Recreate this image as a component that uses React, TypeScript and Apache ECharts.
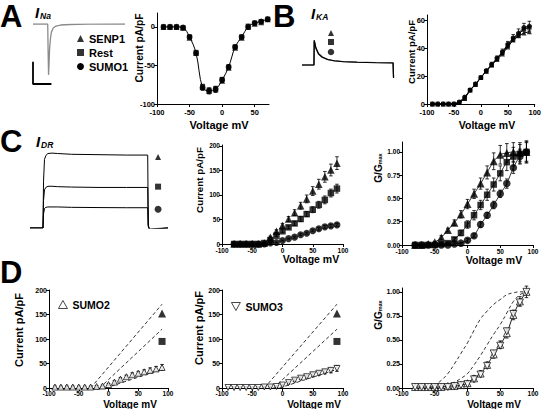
import React, { useEffect, useRef } from "react";
import * as echarts from "echarts";

const FONT = "'Liberation Sans', Arial, Helvetica, sans-serif";

// ---------- Panel A: I_Na I-V ----------
const VOLT_A = [-90, -80, -70, -60, -50, -40, -30, -20, -10, 0, 10, 20, 30, 40, 50, 60, 70];
const A_SENP1 = [0, 0, 0, -1, -14, -34, -78, -83, -81, -70, -53, -27, -14, 0, 4, 6, 10];
const A_REST = [0, 0, 0, -1, -13, -33, -77, -82, -80, -68, -52, -26, -13, 1, 5, 7, 10];
const A_SUMO1 = [0, 0, 0, -1, -13, -34, -79, -83, -81, -69, -52, -26, -13, 0, 5, 7, 10];
const A_ERR = [0, 0, 0, 1, 1, 2, 3, 4, 4, 3, 3, 2, 1, 1, 1, 1, 1];

// ---------- Panel B: I_KA I-V ----------
const VOLT_B = [-90, -80, -70, -60, -50, -40, -30, -20, -10, 0, 10, 20, 30, 40, 50, 60, 70, 80, 90];
const B_SENP1 = [0, 0, 0, 0, 0, 1, 4, 10, 14, 19, 23.5, 28, 32, 36, 41, 46, 49, 51, 52];
const B_REST = [0, 0, 0, 0, 0, 1, 4, 10, 14, 19, 23.5, 28, 32.5, 37, 42, 47, 50, 54, 55];
const B_SUMO1 = [0, 0, 0, 0, 0, 1.5, 5, 10, 14.5, 19, 24, 28.5, 33, 37.5, 43, 47.5, 51, 55, 56];
const B_ERR = [0, 0, 0, 0, 0, 0.5, 1, 1, 1, 1, 1, 1.5, 1.5, 2, 2, 2.5, 3, 3, 3.5];

// ---------- Panel C: I_DR I-V and G/Gmax ----------
const VOLT_C = [-80, -70, -60, -50, -40, -30, -20, -10, 0, 10, 20, 30, 40, 50, 60, 70, 80, 90];
const C_SENP1 = [0, 0, 0, 0, 0, 2, 14, 26, 38, 51, 64, 78, 92, 108, 122, 137, 151, 165];
const C_REST = [0, 0, 0, 0, 0, 2, 8, 17, 26, 34, 42, 51, 61, 70, 80, 90, 104, 113];
const C_SUMO1 = [0, 0, 0, 0, 0, 0, 2, 3, 7, 11, 14, 19, 22, 27, 31, 35, 37, 39];
const C_SENP1_ERR = [0, 0, 0, 0, 0, 1, 2, 3, 4, 5, 6, 7, 8, 9, 10, 11, 12, 13];
const C_REST_ERR = [0, 0, 0, 0, 0, 1, 1, 2, 3, 3, 4, 5, 5, 6, 7, 8, 8, 9];
const C_SUMO1_ERR = [0, 0, 0, 0, 0, 0, 1, 1, 1, 1, 2, 2, 2, 2, 3, 3, 3, 3];

const G_SENP1 = [0, 0, 0.01, 0.03, 0.08, 0.16, 0.24, 0.33, 0.44, 0.55, 0.66, 0.78, 0.9, 0.97, 0.99, 1, 1, 1];
const G_REST = [0, 0, 0, 0, 0.01, 0.02, 0.06, 0.13, 0.22, 0.32, 0.43, 0.54, 0.65, 0.77, 0.89, 0.95, 0.98, 1];
const G_SUMO1 = [0, 0, 0, 0, 0, 0, 0.01, 0.02, 0.05, 0.1, 0.22, 0.32, 0.43, 0.55, 0.66, 0.83, 0.95, 1];
const G_SENP1_ERR = [0, 0, 0.01, 0.01, 0.02, 0.02, 0.03, 0.04, 0.05, 0.05, 0.06, 0.07, 0.09, 0.1, 0.1, 0.1, 0.1, 0.1];
const G_REST_ERR = [0, 0, 0, 0, 0.01, 0.01, 0.02, 0.03, 0.04, 0.05, 0.05, 0.06, 0.07, 0.08, 0.09, 0.1, 0.1, 0.11];
const G_SUMO1_ERR = [0, 0, 0, 0, 0, 0, 0.01, 0.01, 0.02, 0.02, 0.03, 0.03, 0.04, 0.04, 0.05, 0.06, 0.08, 0.12];

// ---------- Panel D: SUMO2 / SUMO3 ----------
const VOLT_D = [-90, -80, -70, -60, -50, -40, -30, -20, -10, 0, 10, 20, 30, 40, 50, 60, 70, 80, 90];
const D_SUMO2 = [2, 2, 2, 2, 2, 2, 2, 3, 4, 7, 12, 18, 23, 27, 30, 33, 36, 39, 42];
const D_SUMO3 = [1, 1, 1, 1, 1, 1, 2, 2, 3, 6, 11, 16, 20, 23, 27, 30, 33, 36, 40];
const D_SUMO2_ERR = [2, 2, 2, 2, 2, 2, 2, 2, 2, 2, 3, 3, 3, 4, 4, 4, 5, 5, 6];
const D_SUMO3_ERR = [2, 2, 2, 2, 2, 2, 2, 2, 2, 2, 3, 3, 3, 3, 4, 4, 4, 5, 6];

const FIT_SENP1_V = [-30, 90];
const FIT_SENP1_I = [0, 171];
const FIT_REST_V = [-15, 90];
const FIT_REST_I = [0, 120];
const FIT_SUMO1_V = [-5, 90];
const FIT_SUMO1_I = [0, 38];
const REF_V = [90];
const REF_SENP1 = [152];
const REF_REST = [95];

const VOLT_G = [-80, -70, -60, -50, -40, -30, -20, -10, 0, 10, 20, 30, 40, 50, 60, 70, 80, 90];
const DG_SUMO2 = [0.01, 0.01, 0.01, 0.01, 0.01, 0.02, 0.02, 0.03, 0.05, 0.1, 0.15, 0.24, 0.35, 0.45, 0.57, 0.76, 0.9, 1.0];
const DG_SUMO3 = [0.01, 0.01, 0.01, 0.01, 0.01, 0.01, 0.02, 0.03, 0.04, 0.09, 0.14, 0.23, 0.36, 0.44, 0.59, 0.77, 0.89, 1.0];
const DG_ERR = [0.01, 0.01, 0.01, 0.01, 0.01, 0.01, 0.02, 0.02, 0.02, 0.03, 0.03, 0.03, 0.04, 0.04, 0.05, 0.05, 0.05, 0.06];
const BOLTZ_V = [-60, -50, -40, -30, -20, -10, 0, 10, 20, 30, 40, 50, 60, 70, 80, 90];
const BOLTZ_SENP1 = [0, 0.03, 0.08, 0.15, 0.25, 0.36, 0.47, 0.6, 0.72, 0.8, 0.87, 0.92, 0.97, 0.99, 1.0, 1.0];
const BOLTZ_REST = [0, 0, 0.01, 0.03, 0.06, 0.1, 0.15, 0.24, 0.34, 0.45, 0.56, 0.66, 0.78, 0.9, 0.97, 1.0];

// ---------- Example current traces ----------
const TRACE_A_T = [0, 16, 16.4, 16.9, 17.4, 18, 19, 20, 22, 25, 30, 40, 60, 100];
const TRACE_A_I = [0, 0, -0.5, -1, -0.8, -0.5, -0.28, -0.16, -0.08, -0.04, -0.02, -0.01, -0.003, 0];
const SCALE_BAR_T = [0, 0, 20];
const SCALE_BAR_I = [-0.74, -1.18, -1.18];

const TRACE_B_T = [0, 13, 13.3, 15, 18, 22, 28, 35, 45, 60, 80, 99, 99.5];
const TRACE_B_1 = [0, 0, 1.0, 0.7, 0.45, 0.32, 0.22, 0.17, 0.13, 0.11, 0.09, 0.08, -0.52];
const TRACE_B_2 = [0, 0, 0.96, 0.68, 0.44, 0.31, 0.22, 0.17, 0.14, 0.12, 0.1, 0.09, -0.5];
const TRACE_B_3 = [0, 0, 0.92, 0.66, 0.43, 0.3, 0.21, 0.16, 0.13, 0.11, 0.1, 0.09, -0.48];
const MARK_B_T = [31.5];
const MARK_B_I = [1.28, 0.92, 0.52];

const TRACE_C_T = [0, 9.4, 9.8, 10.5, 11.5, 13, 16, 20, 30, 50, 70, 85.3, 85.7, 86.5, 100];
const TRACE_C_1 = [0, 0, 0.6, 0.88, 0.93, 0.955, 0.96, 0.955, 0.945, 0.94, 0.935, 0.935, 0.04, -0.02, 0];
const TRACE_C_2 = [0, 0, 0.35, 0.49, 0.52, 0.535, 0.535, 0.53, 0.525, 0.52, 0.52, 0.52, 0.03, -0.02, 0];
const TRACE_C_3 = [0, 0, 0.18, 0.25, 0.265, 0.27, 0.27, 0.27, 0.265, 0.262, 0.26, 0.26, 0.02, -0.01, 0];
const MARK_C_T = [92.8];
const MARK_C_I = [0.91, 0.53, 0.24];

const V_TICKS = [-100, -50, 0, 50, 100];
const INV_TRI = "path://M0,0L10,0L5,9Z";

function pairs(xs: number[], ys: number[]) {
  return xs.map((x, i) => [x, ys[i]]);
}
function triples(xs: number[], ys: number[], es: number[]) {
  return xs.map((x, i) => [x, ys[i], es[i]]);
}

function errRender(params: any, api: any) {
  const x = api.value(0);
  const y = api.value(1);
  const e = api.value(2);
  if (!e) return null;
  const hi = api.coord([x, y + e]);
  const lo = api.coord([x, y - e]);
  const w = 1.8;
  const st = { stroke: "#000", lineWidth: 0.8 };
  return {
    type: "group",
    children: [
      { type: "line", shape: { x1: hi[0], y1: hi[1], x2: lo[0], y2: lo[1] }, style: st },
      { type: "line", shape: { x1: hi[0] - w, y1: hi[1], x2: hi[0] + w, y2: hi[1] }, style: st },
      { type: "line", shape: { x1: lo[0] - w, y1: lo[1], x2: lo[0] + w, y2: lo[1] }, style: st },
    ],
  };
}

function errSeries(idx: number, data: number[][]) {
  return {
    type: "custom",
    xAxisIndex: idx,
    yAxisIndex: idx,
    renderItem: errRender,
    data,
    encode: { x: 0, y: 1 },
    z: 1,
    silent: true,
  };
}

function axis(grid: number, min: number, max: number, ticks: number[], fontSize: number, margin: number, fmt?: (v: number) => string) {
  return {
    type: "value",
    gridIndex: grid,
    min,
    max,
    axisLine: { show: true, onZero: false, lineStyle: { color: "#000", width: 1 } },
    axisTick: { show: true, length: 3, customValues: ticks, lineStyle: { color: "#000", width: 1 } },
    axisLabel: {
      show: true,
      customValues: ticks,
      fontSize,
      fontWeight: "bold",
      color: "#000",
      fontFamily: FONT,
      margin,
      formatter: fmt ? fmt : (v: number) => String(v),
    },
    splitLine: { show: false },
  };
}
function hidden(grid: number, min: number, max: number) {
  return { type: "value", gridIndex: grid, min, max, show: false };
}

const fmt2 = (v: number) => v.toFixed(2);

function txt(x: number, y: number, text: string, size: number, opts: any = {}) {
  return {
    type: "text",
    x,
    y,
    rotation: opts.rotate ? Math.PI / 2 : 0,
    style: {
      text,
      fontSize: size,
      fontWeight: "bold",
      fontStyle: opts.italic ? "italic" : "normal",
      fontFamily: FONT,
      fill: "#000",
      align: opts.align || "center",
      verticalAlign: opts.valign || "middle",
    },
  };
}

function gmaxText(x: number, y: number) {
  return {
    type: "text",
    x,
    y,
    rotation: Math.PI / 2,
    style: {
      text: "{a|G/G}{b|max}",
      align: "center",
      verticalAlign: "middle",
      rich: {
        a: { fontSize: 10, fontWeight: "bold", fontFamily: FONT, fill: "#000", verticalAlign: "bottom" },
        b: { fontSize: 5.5, fontWeight: "bold", fontFamily: FONT, fill: "#000", verticalAlign: "bottom" },
      },
    },
  };
}

function sym(idx: number, name: string, symbol: string, size: number, data: number[][], fill = "#000") {
  return {
    type: "scatter",
    name,
    xAxisIndex: idx,
    yAxisIndex: idx,
    symbol,
    symbolSize: size,
    data,
    itemStyle: { color: fill, borderColor: "#000", borderWidth: fill === "#000" ? 0 : 0.9 },
    z: 3,
    clip: false,
    silent: true,
  };
}
function line(idx: number, name: string, data: number[][], opts: any = {}) {
  return {
    type: "line",
    name,
    xAxisIndex: idx,
    yAxisIndex: idx,
    data,
    showSymbol: false,
    symbol: "none",
    smooth: opts.smooth ?? false,
    lineStyle: {
      color: opts.color || "#000",
      width: opts.width ?? 1,
      type: opts.dashed ? [3.5, 2.5] : "solid",
    },
    z: opts.z ?? 2,
    silent: true,
  };
}

export default function App() {
  const ref = useRef<HTMLDivElement>(null);
  useEffect(() => {
    document.body.style.margin = "0";
    const chart = echarts.init(ref.current!, undefined, { renderer: "svg" });
    const option: any = {
      animation: false,
      backgroundColor: "#fff",
      grid: [
        { left: 157, top: 13, width: 112, height: 91 }, // 0 A
        { left: 427, top: 15, width: 108, height: 89 }, // 1 B
        { left: 222, top: 145, width: 121, height: 99 }, // 2 C1
        { left: 402, top: 142, width: 131, height: 103 }, // 3 C2
        { left: 49, top: 290, width: 119, height: 98 }, // 4 D1
        { left: 222, top: 290, width: 121, height: 98 }, // 5 D2
        { left: 402, top: 288, width: 131, height: 100 }, // 6 D3
        { left: 33, top: 24, width: 92, height: 60 }, // 7 trace A
        { left: 302, top: 40, width: 92, height: 38 }, // 8 trace B
        { left: 30, top: 150, width: 138, height: 78 }, // 9 trace C
      ],
      xAxis: [
        axis(0, -100, 72, [-100, -50, 0, 50], 7.5, 4),
        axis(1, -100, 100, V_TICKS, 7.5, 4),
        axis(2, -100, 100, V_TICKS, 6.5, 3),
        axis(3, -100, 100, V_TICKS, 6.5, 3),
        axis(4, -100, 100, V_TICKS, 6.5, 2),
        axis(5, -100, 100, V_TICKS, 6.5, 2),
        axis(6, -100, 100, V_TICKS, 6.5, 2),
        hidden(7, 0, 100),
        hidden(8, 0, 100),
        hidden(9, 0, 100),
      ],
      yAxis: [
        axis(0, -100, 18, [-100, -50, 0], 7.5, 2),
        axis(1, 0, 64, [0, 20, 40, 60], 7.5, 2),
        axis(2, 0, 202, [0, 50, 100, 150, 200], 6.5, 2),
        axis(3, 0, 1.107, [0, 0.25, 0.5, 0.75, 1], 6.5, 2, fmt2),
        axis(4, 0, 200, [0, 50, 100, 150, 200], 7, 2),
        axis(5, 0, 200, [0, 50, 100, 150, 200], 7, 2),
        axis(6, 0, 1.04, [0, 0.25, 0.5, 0.75, 1], 7, 2, fmt2),
        hidden(7, -1.18, 0),
        hidden(8, -0.52, 1),
        hidden(9, 0, 1),
      ],
      legend: [
        {
          data: [
            { name: "SENP1", icon: "triangle" },
            { name: "Rest", icon: "rect" },
            { name: "SUMO1", icon: "circle" },
          ],
          orient: "vertical",
          left: 72,
          top: 28,
          itemWidth: 7,
          itemHeight: 7,
          itemGap: 3,
          selectedMode: false,
          itemStyle: { color: "#000", borderWidth: 0 },
          textStyle: { fontSize: 11, fontWeight: "bold", fontFamily: FONT, color: "#000" },
        },
        {
          data: [{ name: "SUMO2", icon: "triangle" }],
          left: 53,
          top: 294,
          itemWidth: 9,
          itemHeight: 8,
          selectedMode: false,
          itemStyle: { color: "#fff", borderColor: "#000", borderWidth: 0.9 },
          textStyle: { fontSize: 10.5, fontWeight: "bold", fontFamily: FONT, color: "#000" },
        },
        {
          data: [{ name: "SUMO3", icon: INV_TRI }],
          left: 226,
          top: 296,
          itemWidth: 9,
          itemHeight: 8,
          selectedMode: false,
          itemStyle: { color: "#fff", borderColor: "#000", borderWidth: 0.9 },
          textStyle: { fontSize: 10.5, fontWeight: "bold", fontFamily: FONT, color: "#000" },
        },
      ],
      series: [
        // ----- A -----
        errSeries(0, triples(VOLT_A, A_SUMO1, A_ERR)),
        line(0, "SUMO1", pairs(VOLT_A, A_SUMO1), { smooth: 0.35 }),
        sym(0, "SENP1", "triangle", 6, pairs(VOLT_A, A_SENP1)),
        sym(0, "Rest", "rect", 5, pairs(VOLT_A, A_REST)),
        sym(0, "SUMO1", "circle", 6, pairs(VOLT_A, A_SUMO1)),
        // ----- B -----
        errSeries(1, triples(VOLT_B, B_SUMO1, B_ERR)),
        line(1, "SENP1", pairs(VOLT_B, B_SENP1)),
        line(1, "Rest", pairs(VOLT_B, B_REST)),
        line(1, "SUMO1", pairs(VOLT_B, B_SUMO1)),
        sym(1, "SENP1", "triangle", 5, pairs(VOLT_B, B_SENP1)),
        sym(1, "Rest", "rect", 4.5, pairs(VOLT_B, B_REST)),
        sym(1, "SUMO1", "circle", 5, pairs(VOLT_B, B_SUMO1)),
        // ----- C1 -----
        errSeries(2, triples(VOLT_C, C_SENP1, C_SENP1_ERR)),
        errSeries(2, triples(VOLT_C, C_REST, C_REST_ERR)),
        errSeries(2, triples(VOLT_C, C_SUMO1, C_SUMO1_ERR)),
        sym(2, "SENP1", "triangle", 7.5, pairs(VOLT_C, C_SENP1)),
        sym(2, "Rest", "rect", 6.5, pairs(VOLT_C, C_REST)),
        sym(2, "SUMO1", "circle", 7, pairs(VOLT_C, C_SUMO1)),
        // ----- C2 -----
        errSeries(3, triples(VOLT_C, G_SENP1, G_SENP1_ERR)),
        errSeries(3, triples(VOLT_C, G_REST, G_REST_ERR)),
        errSeries(3, triples(VOLT_C, G_SUMO1, G_SUMO1_ERR)),
        line(3, "SENP1", pairs(VOLT_C, G_SENP1), { smooth: 0.3, width: 0.8 }),
        line(3, "Rest", pairs(VOLT_C, G_REST), { smooth: 0.3, width: 0.8 }),
        line(3, "SUMO1", pairs(VOLT_C, G_SUMO1), { smooth: 0.3, width: 0.8 }),
        sym(3, "SENP1", "triangle", 8, pairs(VOLT_C, G_SENP1)),
        sym(3, "Rest", "rect", 6.5, pairs(VOLT_C, G_REST)),
        sym(3, "SUMO1", "circle", 7.5, pairs(VOLT_C, G_SUMO1)),
        // ----- D1 -----
        line(4, "SENP1 fit", pairs(FIT_SENP1_V, FIT_SENP1_I), { dashed: true, width: 0.8 }),
        line(4, "Rest fit", pairs(FIT_REST_V, FIT_REST_I), { dashed: true, width: 0.8 }),
        line(4, "SUMO1 fit", pairs(FIT_SUMO1_V, FIT_SUMO1_I), { dashed: true, width: 0.8 }),
        errSeries(4, triples(VOLT_D, D_SUMO2, D_SUMO2_ERR)),
        sym(4, "SUMO2", "triangle", 6, pairs(VOLT_D, D_SUMO2), "#fff"),
        sym(4, "SENP1", "triangle", 8, pairs(REF_V, REF_SENP1)),
        sym(4, "Rest", "rect", 7, pairs(REF_V, REF_REST)),
        // ----- D2 -----
        line(5, "SENP1 fit", pairs(FIT_SENP1_V, FIT_SENP1_I), { dashed: true, width: 0.8 }),
        line(5, "Rest fit", pairs(FIT_REST_V, FIT_REST_I), { dashed: true, width: 0.8 }),
        line(5, "SUMO1 fit", pairs(FIT_SUMO1_V, FIT_SUMO1_I), { dashed: true, width: 0.8 }),
        errSeries(5, triples(VOLT_D, D_SUMO3, D_SUMO3_ERR)),
        sym(5, "SUMO3", INV_TRI, 6, pairs(VOLT_D, D_SUMO3), "#fff"),
        sym(5, "SENP1", "triangle", 8, pairs(REF_V, REF_SENP1)),
        sym(5, "Rest", "rect", 7, pairs(REF_V, REF_REST)),
        // ----- D3 -----
        line(6, "SENP1 fit", pairs(BOLTZ_V, BOLTZ_SENP1), { dashed: true, width: 0.8, smooth: 0.4 }),
        line(6, "Rest fit", pairs(BOLTZ_V, BOLTZ_REST), { dashed: true, width: 0.8, smooth: 0.4 }),
        errSeries(6, triples(VOLT_G, DG_SUMO2, DG_ERR)),
        line(6, "SUMO2", pairs(VOLT_G, DG_SUMO2), { smooth: 0.3, width: 0.9 }),
        sym(6, "SUMO2", "triangle", 7, pairs(VOLT_G, DG_SUMO2), "#fff"),
        sym(6, "SUMO3", INV_TRI, 7, pairs(VOLT_G, DG_SUMO3), "#fff"),
        // ----- example traces -----
        line(7, "I_Na trace", pairs(TRACE_A_T, TRACE_A_I), { color: "#8a8a8a", width: 1.3 }),
        line(7, "scale bar", pairs(SCALE_BAR_T, SCALE_BAR_I), { color: "#000", width: 1.8 }),
        line(8, "I_KA trace 3", pairs(TRACE_B_T, TRACE_B_3), { color: "#9a9a9a", width: 1.2 }),
        line(8, "I_KA trace 2", pairs(TRACE_B_T, TRACE_B_2), { color: "#555", width: 1.2 }),
        line(8, "I_KA trace 1", pairs(TRACE_B_T, TRACE_B_1), { color: "#000", width: 1.2 }),
        sym(8, "SENP1", "triangle", 6, [[MARK_B_T[0], MARK_B_I[0]]]),
        sym(8, "Rest", "rect", 6, [[MARK_B_T[0], MARK_B_I[1]]]),
        sym(8, "SUMO1", "circle", 6.5, [[MARK_B_T[0], MARK_B_I[2]]]),
        line(9, "I_DR SENP1", pairs(TRACE_C_T, TRACE_C_1), { width: 1 }),
        line(9, "I_DR Rest", pairs(TRACE_C_T, TRACE_C_2), { width: 1 }),
        line(9, "I_DR SUMO1", pairs(TRACE_C_T, TRACE_C_3), { width: 1 }),
        sym(9, "SENP1", "triangle", 6, [[MARK_C_T[0], MARK_C_I[0]]]),
        sym(9, "Rest", "rect", 6, [[MARK_C_T[0], MARK_C_I[1]]]),
        sym(9, "SUMO1", "circle", 7, [[MARK_C_T[0], MARK_C_I[2]]]),
      ],
      graphic: [
        txt(0, 16, "A", 31, { align: "left" }),
        txt(273, 16, "B", 31, { align: "left" }),
        txt(0, 141, "C", 31, { align: "left" }),
        txt(0, 272, "D", 31, { align: "left" }),
        txt(35, 12, "I", 15, { italic: true, align: "left" }),
        txt(40, 16, "Na", 8.5, { italic: true, align: "left" }),
        txt(311, 13, "I", 15, { italic: true, align: "left" }),
        txt(316, 17, "KA", 8.5, { italic: true, align: "left" }),
        txt(36, 141, "I", 15, { italic: true, align: "left" }),
        txt(41, 145, "DR", 8.5, { italic: true, align: "left" }),
        // y-axis names
        txt(139, 48, "Current pA/pF", 10.3, { rotate: true }),
        txt(411, 52, "Current pA/pF", 9.5, { rotate: true }),
        txt(199, 180, "Current pA/pF", 9.8, { rotate: true }),
        txt(19, 330, "Current pA/pF", 11, { rotate: true }),
        txt(199, 328, "Current pA/pF", 11, { rotate: true }),
        gmaxText(378, 168),
        gmaxText(378, 315),
        // x-axis names
        txt(219, 125, "Voltage mV", 11),
        txt(487, 125, "Voltage mV", 10.5),
        txt(311, 259, "Voltage mV", 10.5),
        txt(494, 260, "Voltage mV", 10.5),
        txt(130, 404.5, "Voltage mV", 10),
        txt(314, 404.5, "Voltage mV", 10),
        txt(494, 404.5, "Voltage mV", 10),
      ],
    };
    chart.setOption(option);
    return () => chart.dispose();
  }, []);
  return (
    <div
      ref={ref}
      style={{ position: "absolute", left: 0, top: 0, width: 544, height: 409, background: "#fff" }}
    />
  );
}
